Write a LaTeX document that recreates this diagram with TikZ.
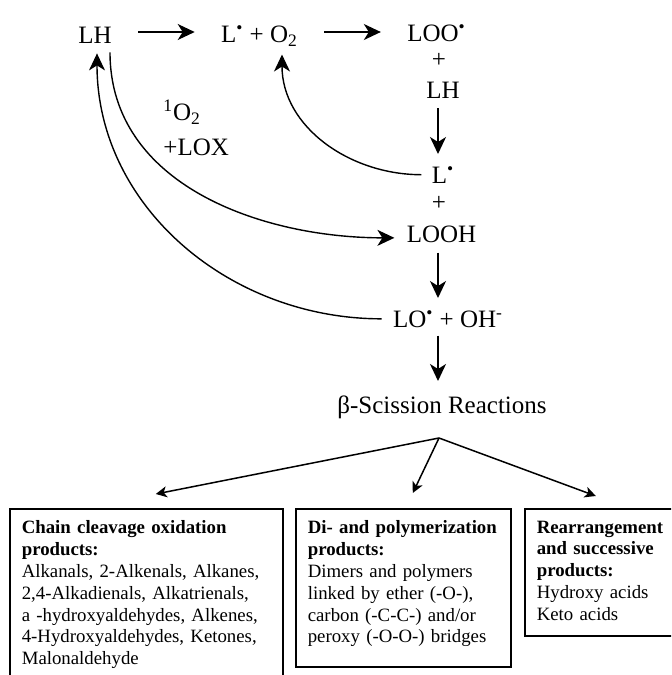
\documentclass[tikz,border=0pt]{standalone}
\usepackage{fontspec}
\setmainfont{Liberation Serif}
\usetikzlibrary{arrows.meta}
\newcommand{\rdot}{\textsuperscript{\textbullet}}
\begin{document}
\begin{tikzpicture}[x=0.5pt,y=-0.5pt,
    chem/.style={inner sep=0pt,anchor=base,font=\fontsize{12.5}{15}\selectfont},
    arr/.style={line width=0.8pt,-{Stealth[length=8.5pt,width=8pt,inset=2.5pt]}},
    curv/.style={line width=0.7pt,-{Stealth[length=8.5pt,width=8pt,inset=2.5pt]}},
    fork/.style={line width=0.75pt,-{Stealth[length=5.5pt,width=5.5pt,inset=1.5pt]}},
    prod/.style={draw,line width=0.8pt,anchor=north west,align=left,inner xsep=6pt,inner ysep=6pt,font=\fontsize{9.4}{10.9}\selectfont}]
    \useasboundingbox (0,0) rectangle (671,675);
    \clip (0,0) rectangle (671,675);
    \node[chem] (lh) at (95,43) {LH};
    \node[chem] (lr) at (259.5,42.5) {L\rdot{} + O\textsubscript{2}};
    \node[chem] (loo) at (436.5,41) {LOO\rdot};
    \node[chem] (pa) at (439,67) {+};
    \node[chem] (lhb) at (443,98) {LH};
    \node[chem] (lb) at (443,183) {L\rdot};
    \node[chem] (pb) at (439,210) {+};
    \node[chem] (looh) at (441.5,242) {LOOH};
    \node[chem] (lo) at (448,327) {LO\rdot{} + OH\textsuperscript{-}};
    \node[chem] (beta) at (442,413) {β-Scission Reactions};
    \node[chem,anchor=north west,align=left,font=\fontsize{12.5}{14.5}\selectfont] (ox) at (163,100) {\textsuperscript{1}O\textsubscript{2}\\[3pt]+LOX};
    \node[prod,text width=124.5pt,text depth=80pt] (chain) at (9,508) {\textbf{Chain cleavage oxidation}\\\textbf{products:}\\Alkanals, 2-Alkenals, Alkanes,\\2,4-Alkadienals, Alkatrienals,\\a -hydroxyaldehydes, Alkenes,\\4-Hydroxyaldehydes, Ketones,\\Malonaldehyde};
    \node[prod,text width=95.5pt,text depth=60.5pt] (dimer) at (295,508) {\mbox{\textbf{Di- and polymerization}}\\\textbf{products:}\\Dimers and polymers\\linked by ether (-O-),\\carbon (-C-C-) and/or\\peroxy (-O-O-) bridges};
    \node[prod,text width=68pt,text depth=45.5pt] (rearr) at (524,508) {\textbf{Rearrangement}\\\textbf{and successive}\\\textbf{products:}\\Hydroxy acids\\Keto acids};
    \coordinate (row) at (0,32);
    \coordinate (col) at (438,0);
    \coordinate (split) at (439,438);
    \draw[arr,shorten <=13pt,shorten >=13pt] (lh.east |- row) -- (lr.west |- row);
    \draw[arr,shorten <=13pt,shorten >=13pt] (lr.east |- row) -- (loo.west |- row);
    \draw[arr,shorten <=5pt,shorten >=6pt] (lhb.south -| col) -- (lb.north -| col);
    \draw[arr,shorten <=5pt,shorten >=6pt] (looh.south -| col) -- (lo.north -| col);
    \draw[arr,shorten <=4pt,shorten >=7pt] (lo.south -| col) -- (beta.north -| col);
    \draw[curv] ([xshift=-5pt]lb.west) to[out=180,in=-90] ([xshift=11.25pt,yshift=-4pt]lr.south);
    \draw[curv] ([xshift=-5.5pt]lo.west) to[out=180,in=-90] ([xshift=1pt,yshift=-5pt]lh.south);
    \draw[curv] ([xshift=7.5pt,yshift=-4.5pt]lh.south) to[out=-90,in=180] ([xshift=-6pt,yshift=-2pt]looh.west);
    \draw[fork] (split) -- ([xshift=4.75pt,yshift=7pt]chain.north);
    \draw[fork] (split) -- ([xshift=4.75pt,yshift=7.5pt]dimer.north);
    \draw[fork] (split) -- ([xshift=-4.5pt,yshift=6pt]rearr.north);
\end{tikzpicture}
\end{document}
